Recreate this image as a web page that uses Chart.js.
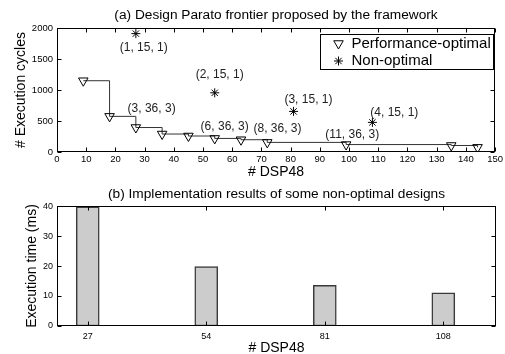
<!DOCTYPE html>
<html>
<head>
<meta charset="utf-8">
<script src="https://cdn.jsdelivr.net/npm/chart.js@4.4.0/dist/chart.umd.min.js"></script>
<style>
  html, body { margin: 0; padding: 0; background: #fff; }
  #wrap { position: relative; width: 505px; height: 354px; }
  canvas { position: absolute; left: 0; display: block; }
  #top { top: 0; }
  #bottom { top: 185px; }
</style>
</head>
<body>
<div id="wrap">
  <canvas id="top" width="505" height="185"></canvas>
  <canvas id="bottom" width="505" height="169"></canvas>
</div>
<script>
// ---- data ----
const optDsp     = [9, 18, 27, 36, 45, 54, 63, 72, 99, 135, 144];
const optCycles  = [1150, 575, 395, 290, 258, 219, 198, 155, 120, 105, 75];
const nonOptDsp    = [27, 54, 81, 108];
const nonOptCycles = [1910, 955, 655, 478];
const barDsp   = [27, 54, 81, 108];
const barTimes = [39.7, 19.8, 13.6, 11.1];
const dspTicks   = [0, 10, 20, 30, 40, 50, 60, 70, 80, 90, 100, 110, 120, 130, 140, 150];
const cycleTicks = [0, 500, 1000, 1500, 2000];
const timeTicks  = [0, 10, 20, 30, 40];
// design tags (x, y in data units of the top chart)
const tagText = ["(1, 15, 1)", "(2, 15, 1)", "(3, 15, 1)", "(4, 15, 1)", "(3, 36, 3)", "(6, 36, 3)", "(8, 36, 3)", "(11, 36, 3)"];
const tagX    = [29.7, 55.7, 86.1, 115.5, 32.4, 57.4, 75.5, 101.1];
const tagY    = [1677, 1247, 843, 629, 698, 413, 371, 279];

const FONT = "'Liberation Sans', Arial, Helvetica, sans-serif";

// matlab-ish box: frame, inward ticks on all sides, text tags, legend
const boxPlugin = {
  id: "matlabBox",
  afterDatasetsDraw(chart, args, opts) {
    const { ctx, chartArea: a, scales } = chart;
    const L = Math.round(a.left) + 0.5, R = Math.round(a.right) - 0.5;
    const T = Math.round(a.top) + 0.5, B = Math.round(a.bottom) - 0.5;
    ctx.save();
    ctx.strokeStyle = "#000";
    ctx.lineWidth = 1;
    ctx.beginPath();
    for (const t of scales.x.ticks) {
      const px = Math.round(scales.x.getPixelForValue(t.value)) + 0.5;
      ctx.moveTo(px, B); ctx.lineTo(px, B - 4);
      ctx.moveTo(px, T); ctx.lineTo(px, T + 4);
    }
    for (const t of scales.y.ticks) {
      const py = Math.round(scales.y.getPixelForValue(t.value)) + 0.5;
      ctx.moveTo(L, py); ctx.lineTo(L + 4, py);
      ctx.moveTo(R, py); ctx.lineTo(R - 4, py);
    }
    ctx.stroke();
    ctx.strokeRect(L, T, R - L, B - T);

    if (opts.tags) {
      ctx.fillStyle = "#222";
      ctx.font = "12px " + FONT;
      ctx.textAlign = "center";
      ctx.textBaseline = "middle";
      tagText.forEach((s, i) => {
        ctx.fillText(s, scales.x.getPixelForValue(tagX[i]), scales.y.getPixelForValue(tagY[i]));
      });
    }
    ctx.restore();
  },
  afterDraw(chart, args, opts) {
    if (!opts.legend) return;
    const { ctx, chartArea: a } = chart;
    const w = 173, h = 35;
    const x0 = Math.round(a.right) - 2 - w + 0.5, y0 = Math.round(a.top) + 6 + 0.5;
    ctx.save();
    ctx.fillStyle = "#fff";
    ctx.fillRect(x0, y0, w, h);
    ctx.strokeStyle = "#000";
    ctx.lineWidth = 1;
    ctx.strokeRect(x0, y0, w, h);
    const sx = x0 + 18, y1 = y0 + 9, y2 = y0 + 26.5;
    // triangle (apex down)
    const r = 5.5;
    ctx.beginPath();
    ctx.moveTo(sx, y1 + r);
    ctx.lineTo(sx - r * 0.866, y1 - r / 2);
    ctx.lineTo(sx + r * 0.866, y1 - r / 2);
    ctx.closePath();
    ctx.stroke();
    // star
    ctx.beginPath();
    const rs = 4.5;
    for (let k = 0; k < 4; k++) {
      const ang = k * Math.PI / 4;
      ctx.moveTo(sx - Math.cos(ang) * rs, y2 - Math.sin(ang) * rs);
      ctx.lineTo(sx + Math.cos(ang) * rs, y2 + Math.sin(ang) * rs);
    }
    ctx.stroke();
    ctx.fillStyle = "#000";
    ctx.font = "15px " + FONT;
    ctx.textAlign = "left";
    ctx.textBaseline = "middle";
    ctx.fillText("Performance-optimal", x0 + 31, y1);
    ctx.fillText("Non-optimal", x0 + 31, y2);
    ctx.restore();
  }
};

const tickFont = (size) => ({ family: FONT, size });
const plain = (v) => String(v);

// ---- (a) pareto frontier ----
new Chart(document.getElementById("top"), {
  type: "scatter",
  data: {
    datasets: [
      {
        label: "Performance-optimal",
        data: optDsp.map((x, i) => ({ x, y: optCycles[i] })),
        showLine: true,
        stepped: true,
        borderColor: "#333",
        borderWidth: 1,
        pointStyle: "triangle",
        rotation: 180,
        pointRadius: 5.5,
        pointBorderColor: "#000",
        pointBackgroundColor: "rgba(255,255,255,0)",
        pointBorderWidth: 1
      },
      {
        label: "Non-optimal",
        data: nonOptDsp.map((x, i) => ({ x, y: nonOptCycles[i] })),
        showLine: false,
        pointStyle: "star",
        pointRadius: 4.5,
        pointBorderColor: "#000",
        pointBorderWidth: 1
      }
    ]
  },
  options: {
    responsive: false,
    animation: false,
    events: [],
    layout: { padding: { top: 0, right: 9, left: 0, bottom: 0 } },
    plugins: {
      legend: { display: false },
      tooltip: { enabled: false },
      title: {
        display: true,
        fullSize: false,
        text: "(a) Design Parato frontier proposed by the framework",
        color: "#000",
        font: { family: FONT, size: 13.7, weight: "normal" },
        padding: { top: 7.5, bottom: 4.1 }
      },
      matlabBox: { tags: true, legend: true }
    },
    scales: {
      x: {
        type: "linear",
        min: 0, max: 150,
        afterBuildTicks: (s) => { s.ticks = dspTicks.map(v => ({ value: v })); },
        grid: { display: false, drawTicks: false },
        border: { display: false },
        ticks: { color: "#000", font: tickFont(9.5), padding: 2, maxRotation: 0, autoSkip: false, callback: plain },
        title: { display: true, text: "# DSP48", color: "#000", font: { family: FONT, size: 14 }, padding: { top: 0, bottom: 4.6 } },
        afterFit: (s) => { s.height = 33; }
      },
      y: {
        min: 0, max: 2000,
        afterBuildTicks: (s) => { s.ticks = cycleTicks.map(v => ({ value: v })); },
        grid: { display: false, drawTicks: false },
        border: { display: false },
        ticks: { color: "#000", font: tickFont(9.5), padding: 4, callback: plain },
        title: { display: true, text: "# Execution cycles", color: "#000", font: { family: FONT, size: 14 }, padding: { top: 12.3, bottom: 0 } },
        afterFit: (s) => { s.width = 57; }
      }
    }
  },
  plugins: [boxPlugin]
});

// ---- (b) implementation results ----
new Chart(document.getElementById("bottom"), {
  type: "bar",
  data: {
    datasets: [{
      label: "Execution time",
      data: barDsp.map((x, i) => ({ x, y: barTimes[i] })),
      backgroundColor: "#cccccc",
      borderColor: "#3a3a3a",
      borderWidth: 1.5,
      borderSkipped: false,
      barThickness: 23
    }]
  },
  options: {
    responsive: false,
    animation: false,
    events: [],
    layout: { padding: { top: 0, right: 9, left: 0, bottom: 0 } },
    plugins: {
      legend: { display: false },
      tooltip: { enabled: false },
      title: {
        display: true,
        fullSize: false,
        text: "(b) Implementation results of some non-optimal designs",
        color: "#000",
        font: { family: FONT, size: 13.7, weight: "normal" },
        padding: { top: 0.8, bottom: 3.8 }
      },
      matlabBox: { tags: false, legend: false }
    },
    scales: {
      x: {
        type: "linear",
        offset: false,
        min: 20, max: 120,
        afterBuildTicks: (s) => { s.ticks = barDsp.map(v => ({ value: v })); },
        grid: { display: false, drawTicks: false, offset: false },
        border: { display: false },
        ticks: { color: "#000", font: tickFont(9), padding: 5, maxRotation: 0, autoSkip: false, callback: plain },
        title: { display: true, text: "# DSP48", color: "#000", font: { family: FONT, size: 14, lineHeight: 0.86 }, padding: { top: 0, bottom: 0 } },
        afterFit: (s) => { s.height = 28; }
      },
      y: {
        min: 0, max: 40,
        afterBuildTicks: (s) => { s.ticks = timeTicks.map(v => ({ value: v })); },
        grid: { display: false, drawTicks: false },
        border: { display: false },
        ticks: { color: "#000", font: tickFont(9), padding: 4, callback: plain },
        title: { display: true, text: "Execution time (ms)", color: "#000", font: { family: FONT, size: 14 }, padding: { top: 23.3, bottom: 0 } },
        afterFit: (s) => { s.width = 57; }
      }
    }
  },
  plugins: [boxPlugin]
});
</script>
</body>
</html>
